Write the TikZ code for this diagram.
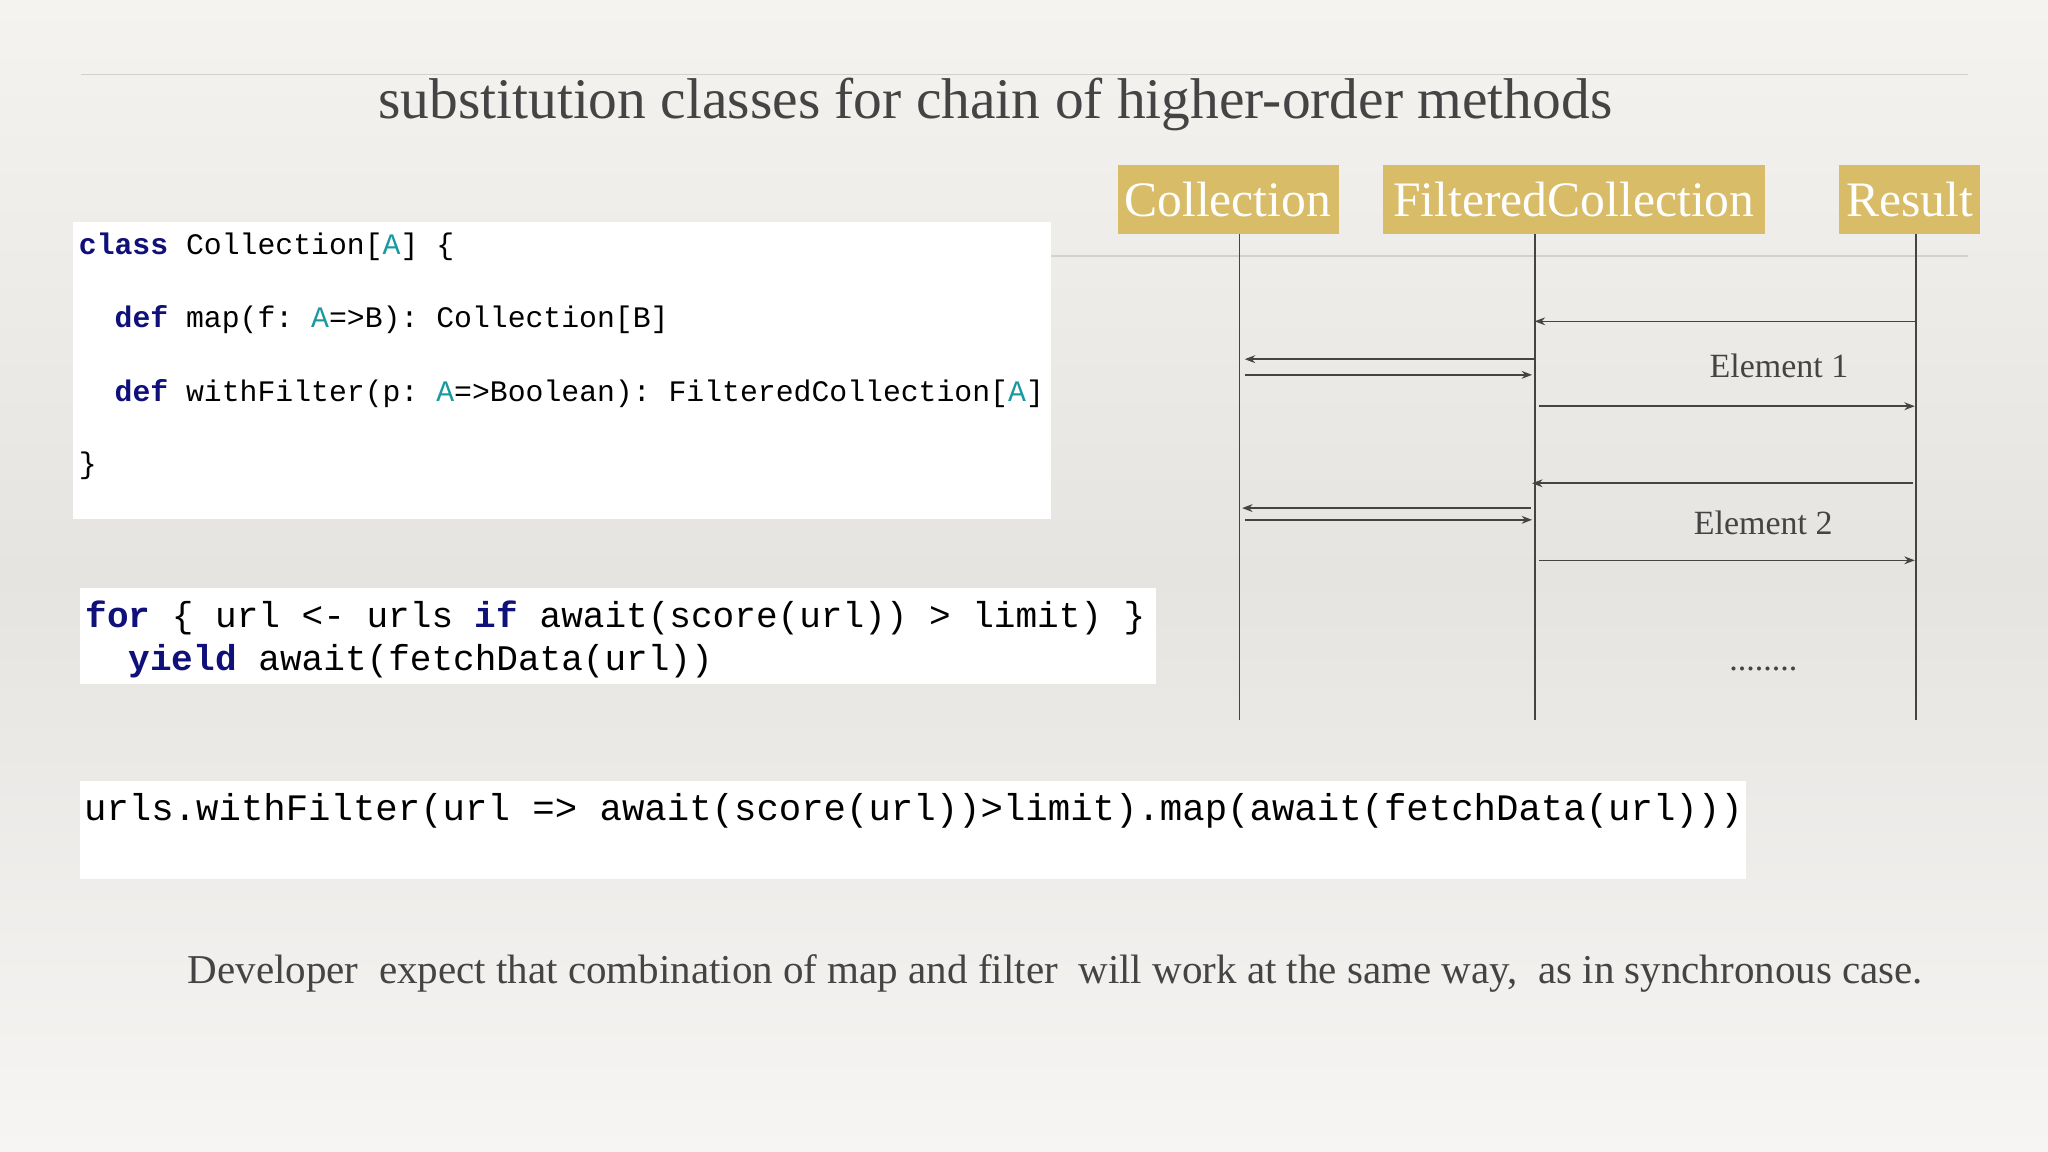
\documentclass[tikz,border=0pt]{standalone}
\usepackage{fontspec}
\setmainfont{Liberation Serif}
\setmonofont{Liberation Mono}
\usetikzlibrary{arrows.meta}
\definecolor{gold}{HTML}{D8BC68}
\definecolor{kw}{HTML}{10107A}
\definecolor{tl}{HTML}{1A9AA0}
\definecolor{ink}{HTML}{444444}
\definecolor{bgtop}{HTML}{F5F3F0}
\definecolor{bgmid}{HTML}{E6E4E1}
\definecolor{bgbot}{HTML}{F6F5F3}
\tikzset{
 hdr/.style={text=white,font=\fontsize{19}{19}\selectfont,inner sep=0pt},
 msg/.style={draw=ink,line width=0.6pt,-{Stealth[length=4pt,width=3pt]}},
 life/.style={draw=ink,line width=0.7pt},
 lbl/.style={text=ink,font=\fontsize{13}{13}\selectfont},
 code/.style={anchor=west,inner sep=0pt,text=black}
}
\newcommand{\kwd}[1]{\textcolor{kw}{\textbf{#1}}}
\newcommand{\tA}{\textcolor{tl}{A}}
\begin{document}
\begin{tikzpicture}[x=0.5pt,y=-0.5pt]
\useasboundingbox (0,0) rectangle (1568,882);
\shade[top color=bgtop, bottom color=bgbot, middle color=bgmid] (0,0) rectangle (1568,882);
\draw[black!18,line width=0.6pt] (62,57) -- (1507,57);
\node[text=ink,font=\fontsize{22}{22}\selectfont] (title) at (762,80) {substitution classes for chain of higher-order methods};
\draw[black!18,line width=0.6pt] (805,196) -- (1507,196);
% headers
\fill[gold] (856,126) rectangle (1025,179);
\fill[gold] (1059,126) rectangle (1351,179);
\fill[gold] (1408,126) rectangle (1516,179);
\node[hdr] (hc) at (940,153) {Collection};
\node[hdr] (hf) at (1205,153) {FilteredCollection};
\node[hdr] (hr) at (1462,153) {Result};
\coordinate (c0) at (949,179); \coordinate (c1) at (949,551);
\coordinate (f0) at (1175,179); \coordinate (f1) at (1175,551);
\coordinate (r0) at (1467,179); \coordinate (r1) at (1467,551);
\draw[life] (c0) -- (c1); \draw[life] (f0) -- (f1); \draw[life] (r0) -- (r1);
% messages
\foreach \y/\a/\b in {246/1467/1175, 275/1175/953, 287/953/1173, 311/1178/1466, 370/1465/1173, 389/1172/951, 398/953/1173, 429/1178/1466}{
  \coordinate (s\y) at (\a,\y); \coordinate (e\y) at (\b,\y);
  \draw[msg] (s\y) -- (e\y);
}
\node[lbl] (el1) at (1362,280) {Element 1};
\node[lbl] (el2) at (1350,400) {Element 2};
\node[lbl] (dots) at (1350,512) {........};
% code box 1
\fill[white] (56,170) rectangle (805,397);
\begin{scope}[every node/.style={code,font=\ttfamily\fontsize{11.4}{11}\selectfont}]
\node (l1) at (60,189) {\kwd{class} Collection[\tA] \{};
\node (l2) at (60,245) {\ \ \kwd{def} map(f: \tA=>B): Collection[B]};
\node (l3) at (60,301) {\ \ \kwd{def} withFilter(p: \tA=>Boolean): FilteredCollection[\tA]};
\node (l4) at (60,357) {\}};
\end{scope}
% box 2
\fill[white] (61,450) rectangle (885,524);
\begin{scope}[every node/.style={code,font=\ttfamily\fontsize{13.8}{14}\selectfont}]
\node (m1) at (65,473) {\kwd{for} \{ url <- urls \kwd{if} await(score(url)) > limit) \}};
\node (m2) at (65,506) {\ \ \kwd{yield} await(fetchData(url))};
\end{scope}
% box 3
\fill[white] (61,598) rectangle (1337,673);
\node[code,font=\ttfamily\fontsize{14.3}{14}\selectfont] (n1) at (64,621) {urls.withFilter(url => await(score(url))>limit).map(await(fetchData(url)))};
\node[text=ink,font=\fontsize{15.7}{15}\selectfont] (bot) at (808,745) {Developer\ \ expect that combination of map and filter\ \ will work at the same way,\ \ as in synchronous case.};
\end{tikzpicture}
\end{document}
